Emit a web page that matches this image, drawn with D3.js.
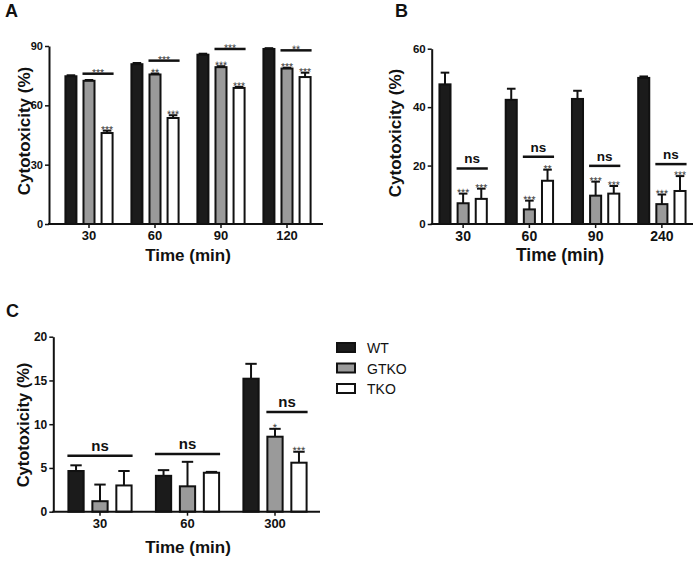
<!DOCTYPE html>
<html><head><meta charset="utf-8">
<script src="https://cdn.jsdelivr.net/npm/d3@7"></script>
<style>
body{margin:0;background:#fff;}
svg{display:block;font-family:"Liberation Sans",Arial,sans-serif;}
.st{fill:#3a3a3a;}
</style>
</head><body>
<svg id="chart" width="696" height="561"></svg>
<script>
const series = ["WT", "GTKO", "TKO"];

// ---- Panel A ----
const catsA = ["30", "60", "90", "120"];
const wtA = [74.7, 80.8, 85.6, 88.5];
const wtErrA = [0.5, 0.6, 0.5, 0.4];
const gtkoA = [72.4, 75.6, 79.3, 78.6];
const gtkoErrA = [0.4, 0.5, 0.5, 0.4];
const tkoA = [46.0, 53.6, 68.8, 74.3];
const tkoErrA = [1.2, 1.4, 0.5, 2.2];
const gtkoStarsA = ["", "**", "***", "***"];
const tkoStarsA = ["***", "***", "***", "***"];
const bracketA = [76.0, 82.6, 88.5, 87.8];
const bracketLabelA = ["***", "***", "***", "**"];
const bracketFromA = ["GTKO", "GTKO", "GTKO", "GTKO"];
const yTicksA = [0, 30, 60, 90];

// ---- Panel B ----
const catsB = ["30", "60", "90", "240"];
const wtB = [47.8, 42.5, 42.8, 50.0];
const wtErrB = [4.0, 3.8, 2.8, 0.5];
const gtkoB = [7.1, 5.0, 9.7, 6.8];
const gtkoErrB = [3.3, 3.0, 4.8, 3.3];
const tkoB = [8.6, 14.8, 10.4, 11.3];
const tkoErrB = [3.5, 3.8, 2.6, 5.1];
const gtkoStarsB = ["***", "***", "***", "***"];
const tkoStarsB = ["***", "**", "***", "***"];
const bracketB = [19.0, 23.0, 19.9, 20.5];
const bracketLabelB = ["ns", "ns", "ns", "ns"];
const bracketFromB = ["GTKO", "GTKO", "GTKO", "GTKO"];
const yTicksB = [0, 20, 40, 60];

// ---- Panel C ----
const catsC = ["30", "60", "300"];
const wtC = [4.65, 4.1, 15.2];
const wtErrC = [0.65, 0.65, 1.7];
const gtkoC = [1.2, 2.9, 8.57];
const gtkoErrC = [1.9, 2.8, 0.9];
const tkoC = [3.0, 4.45, 5.6];
const tkoErrC = [1.65, 0.1, 1.25];
const gtkoStarsC = ["", "", "*"];
const tkoStarsC = ["", "", "***"];
const bracketC = [6.4, 6.6, 11.4];
const bracketLabelC = ["ns", "ns", "ns"];
const bracketFromC = ["WT", "WT", "GTKO"];
const yTicksC = [0, 5, 10, 15, 20];

const fills = {WT: "#1b1b1b", GTKO: "#9a9a9a", TKO: "#ffffff"};
const svg = d3.select("#chart");

function starText(parent, x, y, size, label) {
  parent.append("text").attr("class", "st")
    .attr("transform", `translate(${x},${y}) rotate(0.05)`)
    .attr("text-anchor", "middle").attr("font-size", size)
    .text(label);
}

function panel(cfg) {
  const g = svg.append("g");
  const y = d3.scaleLinear().domain([0, cfg.yMax]).range([cfg.yBottom, cfg.yTop]);
  const x0 = d3.scaleBand().domain(cfg.cats).range(cfg.band);
  const inner = x0.bandwidth() * 0.745;
  const x1 = d3.scaleBand().domain(series).range([-inner / 2, inner / 2]).paddingInner(0.28);
  const bw = x1.bandwidth();
  const cx = (c) => x0(c) + x0.bandwidth() / 2;

  const rows = [];
  cfg.cats.forEach((c, i) => {
    series.forEach((s) => {
      rows.push({c, s, v: cfg.vals[s][i], e: cfg.errs[s][i],
        star: s === "GTKO" ? cfg.gStars[i] : s === "TKO" ? cfg.tStars[i] : ""});
    });
  });

  // error bars
  g.selectAll(".err").data(rows).enter().append("line")
    .attr("x1", d => cx(d.c) + x1(d.s) + bw / 2)
    .attr("x2", d => cx(d.c) + x1(d.s) + bw / 2)
    .attr("y1", d => y(d.v)).attr("y2", d => y(d.v + d.e))
    .attr("stroke", "#111").attr("stroke-width", 2);
  g.selectAll(".cap").data(rows).enter().append("line")
    .attr("x1", d => cx(d.c) + x1(d.s) + bw / 2 - bw * 0.33)
    .attr("x2", d => cx(d.c) + x1(d.s) + bw / 2 + bw * 0.33)
    .attr("y1", d => y(d.v + d.e)).attr("y2", d => y(d.v + d.e))
    .attr("stroke", "#111").attr("stroke-width", 2);

  // bars
  g.selectAll(".bar").data(rows).enter().append("rect")
    .attr("x", d => cx(d.c) + x1(d.s) + 1)
    .attr("width", bw - 2)
    .attr("y", d => y(d.v))
    .attr("height", d => y(0) - y(d.v))
    .attr("fill", d => fills[d.s])
    .attr("stroke", "#111").attr("stroke-width", 2);

  // stars
  rows.filter(d => d.star).forEach(d => {
    starText(g, cx(d.c) + x1(d.s) + bw / 2, y(d.v + d.e) + 2.5, cfg.starSize, d.star);
  });

  // brackets
  cfg.cats.forEach((c, i) => {
    const xa = cx(c) + x1(cfg.bFrom[i]);
    const xb = cx(c) + x1("TKO") + bw;
    const yy = y(cfg.bVals[i]);
    g.append("line").attr("x1", xa).attr("x2", xb).attr("y1", yy).attr("y2", yy)
      .attr("stroke", "#111").attr("stroke-width", 2.5);
    const lab = cfg.bLabels[i];
    if (lab === "ns") {
      g.append("text").attr("x", (xa + xb) / 2).attr("y", yy - 5)
        .attr("text-anchor", "middle").attr("font-size", cfg.nsSize)
        .attr("font-weight", "bold").attr("fill", "#111").text(lab);
    } else {
      starText(g, (xa + xb) / 2, yy + 2.5, cfg.starSize, lab);
    }
  });

  // y axis
  const ya = g.append("g").attr("transform", `translate(${cfg.axisX[0]},0)`)
    .call(d3.axisLeft(y).tickValues(cfg.yTicks).tickSize(4).tickPadding(2).tickSizeOuter(0));
  ya.select(".domain").attr("stroke", "#111").attr("stroke-width", 2);
  ya.selectAll(".tick line").attr("stroke", "#111").attr("stroke-width", 1.5);
  ya.selectAll(".tick text").attr("font-size", cfg.yTickSize).attr("font-weight", "bold")
    .attr("fill", "#111").attr("font-family", "Liberation Sans, Arial, sans-serif");

  // x axis
  const xa = g.append("g").attr("transform", `translate(0,${cfg.yBottom})`)
    .call(d3.axisBottom(x0).tickSize(4).tickPadding(3).tickSizeOuter(0));
  xa.select(".domain").remove();
  xa.selectAll(".tick line").attr("stroke", "#111").attr("stroke-width", 1.5);
  xa.selectAll(".tick text").attr("font-size", cfg.xTickSize).attr("font-weight", "bold")
    .attr("fill", "#111").attr("font-family", "Liberation Sans, Arial, sans-serif");
  g.append("line").attr("x1", cfg.axisX[0] - 1).attr("x2", cfg.axisX[1])
    .attr("y1", cfg.yBottom).attr("y2", cfg.yBottom)
    .attr("stroke", "#111").attr("stroke-width", 2);

  // titles
  g.append("text").attr("x", cfg.xTitle[0]).attr("y", cfg.xTitle[1])
    .attr("text-anchor", "middle").attr("font-size", cfg.titleSize).attr("font-weight", "bold")
    .attr("fill", "#111").text("Time (min)");
  g.append("text")
    .attr("transform", `translate(${cfg.yTitle[0]},${cfg.yTitle[1]}) rotate(-90)`)
    .attr("text-anchor", "middle").attr("font-size", cfg.yTitleSize).attr("font-weight", "bold")
    .attr("fill", "#111").text("Cytotoxicity (%)");
  g.append("text").attr("x", cfg.letter[0]).attr("y", cfg.letter[1])
    .attr("font-size", 18).attr("font-weight", "bold").attr("fill", "#111").text(cfg.name);
}

panel({
  name: "A", cats: catsA, yMax: 90, yTicks: yTicksA, yBottom: 224, yTop: 46,
  band: [56, 320], axisX: [49, 323],
  vals: {WT: wtA, GTKO: gtkoA, TKO: tkoA}, errs: {WT: wtErrA, GTKO: gtkoErrA, TKO: tkoErrA},
  gStars: gtkoStarsA, tStars: tkoStarsA, bVals: bracketA, bLabels: bracketLabelA, bFrom: bracketFromA,
  starSize: 10.5, nsSize: 13, yTickSize: 11, xTickSize: 13, titleSize: 17, yTitleSize: 17,
  xTitle: [188, 261], yTitle: [30, 131], letter: [5, 17]
});
panel({
  name: "B", cats: catsB, yMax: 60, yTicks: yTicksB, yBottom: 224, yTop: 48.7,
  band: [430, 695], axisX: [431.7, 693],
  vals: {WT: wtB, GTKO: gtkoB, TKO: tkoB}, errs: {WT: wtErrB, GTKO: gtkoErrB, TKO: tkoErrB},
  gStars: gtkoStarsB, tStars: tkoStarsB, bVals: bracketB, bLabels: bracketLabelB, bFrom: bracketFromB,
  starSize: 10.5, nsSize: 13.5, yTickSize: 11.5, xTickSize: 14, titleSize: 17.5, yTitleSize: 17,
  xTitle: [560, 261], yTitle: [401, 133], letter: [395, 17]
});
panel({
  name: "C", cats: catsC, yMax: 20, yTicks: yTicksC, yBottom: 511.7, yTop: 336.7,
  band: [56.25, 318.75], axisX: [53.3, 320],
  vals: {WT: wtC, GTKO: gtkoC, TKO: tkoC}, errs: {WT: wtErrC, GTKO: gtkoErrC, TKO: tkoErrC},
  gStars: gtkoStarsC, tStars: tkoStarsC, bVals: bracketC, bLabels: bracketLabelC, bFrom: bracketFromC,
  starSize: 11, nsSize: 15, yTickSize: 12, xTickSize: 13, titleSize: 17, yTitleSize: 16.5,
  xTitle: [188, 553], yTitle: [29, 425], letter: [6, 317]
});

// legend
const leg = svg.append("g").attr("transform", "translate(337,343)");
series.forEach((s, i) => {
  const r = leg.append("g").attr("transform", `translate(0,${i * 20.5})`);
  r.append("rect").attr("x", 0).attr("y", 0).attr("width", 18).attr("height", 9)
    .attr("fill", fills[s]).attr("stroke", "#111").attr("stroke-width", 2);
  r.append("text").attr("x", 30).attr("y", 10).attr("font-size", 14).attr("fill", "#111").text(s);
});
</script>
</body></html>
